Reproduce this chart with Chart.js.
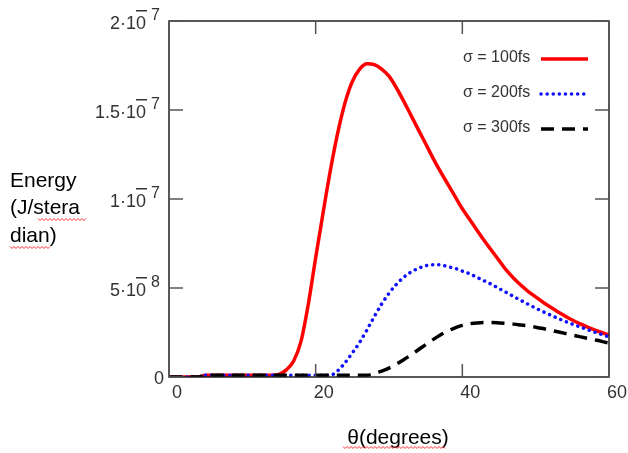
<!DOCTYPE html>
<html>
<head>
<meta charset="utf-8">
<script src="https://cdn.jsdelivr.net/npm/chart.js@4"></script>
<style>
  body { margin: 0; background: #fff; }
  canvas { display: block; }
</style>
</head>
<body>
<canvas id="energia" width="628" height="453"></canvas>
<script>
// theta in degrees, energy in units of 1e-8 J/steradian
var theta = [0,1,2,3,4,5,6,7,8,9,10,11,12,13,14,15,16,17,18,19,20,21,22,23,24,25,26,27,28,29,30,
  31,32,33,34,35,36,37,38,39,40,41,42,43,44,45,46,47,48,49,50,51,52,53,54,55,56,57,58,59,60];
var sigma100 = [0,0,0,0,0,0.1,0.1,0.1,0.1,0.1,0.1,0.1,0.1,0.1,0.1,0.15,0.4,0.9,2.0,4.1,6.7,
  9.2,11.6,13.7,15.4,16.6,17.3,17.6,17.55,17.3,16.9,16.25,15.5,14.7,13.9,13.1,12.3,11.55,10.85,10.15,9.45,
  8.85,8.25,7.65,7.1,6.55,6.0,5.55,5.15,4.8,4.5,4.2,3.93,3.67,3.43,3.2,3.0,2.82,2.65,2.5,2.37];
var sigma200 = [0,0,0,0,0,0.1,0.1,0.1,0.1,0.1,0.1,0.1,0.1,0.1,0.1,0.1,0.1,0.1,0.1,0.1,0.1,
  0.1,0.1,0.35,0.8,1.35,1.95,2.65,3.4,4.1,4.7,5.2,5.6,5.9,6.1,6.25,6.3,6.3,6.2,6.1,5.95,
  5.8,5.6,5.4,5.2,4.97,4.75,4.52,4.3,4.08,3.87,3.67,3.48,3.3,3.13,2.97,2.82,2.67,2.53,2.39,2.25];
var sigma300 = [0,0,0,0,0,0.1,0.1,0.1,0.1,0.1,0.1,0.1,0.1,0.1,0.1,0.1,0.1,0.1,0.1,0.1,0.1,
  0.1,0.1,0.1,0.1,0.1,0.1,0.1,0.2,0.33,0.5,0.72,0.97,1.24,1.53,1.82,2.1,2.36,2.58,2.76,2.9,
  2.99,3.04,3.06,3.06,3.04,3.01,2.97,2.92,2.87,2.8,2.72,2.63,2.54,2.45,2.36,2.27,2.18,2.09,2.0,1.9];
var seriesNames = ['σ = 100fs', 'σ = 200fs', 'σ = 300fs'];

var xTicks = [0, 20, 40, 60];
var yTicks = [0, 5, 10, 15, 20];
var yTickMant = ['0', '5·10', '1·10', '1.5·10', '2·10'];
var yTickExp = ['', '8', '7', '7', '7'];

function pts(vals) {
  return theta.map(function (t, i) { return { x: t, y: vals[i] }; });
}

var FONT = "'Liberation Sans', Arial, sans-serif";

function squiggle(ctx, x0, x1, y) {
  ctx.save();
  ctx.strokeStyle = '#ff3030';
  ctx.lineWidth = 1;
  ctx.beginPath();
  for (var x = x0, k = 0; x <= x1; x += 2, k++) {
    var yy = y + (k % 2 ? 1.5 : -0.5);
    if (k === 0) ctx.moveTo(x, yy); else ctx.lineTo(x, yy);
  }
  ctx.stroke();
  ctx.restore();
}

var decor = {
  id: 'decor',
  afterDraw: function (chart) {
    var ctx = chart.ctx, ca = chart.chartArea;
    var xs = chart.scales.x, ys = chart.scales.y;
    ctx.save();

    // frame
    ctx.strokeStyle = '#222';
    ctx.lineWidth = 1.5;
    ctx.strokeRect(ca.left, ca.top, ca.right - ca.left, ca.bottom - ca.top);

    // inner ticks
    ctx.strokeStyle = '#555';
    ctx.beginPath();
    yTicks.forEach(function (v) {
      var py = ys.getPixelForValue(v);
      ctx.moveTo(ca.left, py); ctx.lineTo(ca.left + 14, py);
      ctx.moveTo(ca.right, py); ctx.lineTo(ca.right - 14, py);
    });
    xTicks.forEach(function (v) {
      var px = xs.getPixelForValue(v);
      ctx.moveTo(px, ca.bottom); ctx.lineTo(px, ca.bottom - 13);
      ctx.moveTo(px, ca.top); ctx.lineTo(px, ca.top + 13);
    });
    ctx.stroke();

    // y tick labels
    ctx.fillStyle = '#333';
    yTicks.forEach(function (v, i) {
      var py = ys.getPixelForValue(v);
      ctx.font = '18px ' + FONT;
      ctx.textAlign = 'right';
      ctx.textBaseline = 'alphabetic';
      if (!yTickExp[i]) {
        ctx.fillText(yTickMant[i], ca.left - 5, py + 7);
        return;
      }
      ctx.fillText(yTickMant[i], ca.left - 23, py + 8);
      ctx.fillRect(ca.left - 33, py - 11, 11, 1.5);
      ctx.font = '16px ' + FONT;
      ctx.textAlign = 'left';
      ctx.fillText(yTickExp[i], ca.left - 18, py - 1);
    });

    // x tick labels
    ctx.font = '18px ' + FONT;
    ctx.textAlign = 'center';
    xTicks.forEach(function (v) {
      ctx.fillText(String(v), xs.getPixelForValue(v) + 8, ca.bottom + 21);
    });

    // axis titles
    ctx.fillStyle = '#000';
    ctx.font = '21px ' + FONT;
    ctx.textAlign = 'left';
    ctx.fillText('Energy', 10, 187);
    ctx.fillText('(J/stera', 10, 214);
    ctx.fillText('dian)', 10, 242);
    ctx.textAlign = 'center';
    ctx.fillText('θ(degrees)', 398, 444);
    squiggle(ctx, 38, 87, 219);
    squiggle(ctx, 10, 50, 247);
    squiggle(ctx, 343, 445, 447);

    // legend
    var ds = chart.data.datasets;
    ctx.font = '16px ' + FONT;
    ctx.textAlign = 'left';
    ctx.textBaseline = 'middle';
    ds.forEach(function (d, i) {
      var ly = 58 + i * 35;
      ctx.fillStyle = '#333';
      ctx.fillText(d.label, 463, ly);
      ctx.save();
      ctx.strokeStyle = d.borderColor;
      ctx.lineWidth = d.borderWidth;
      ctx.lineCap = d.borderCapStyle || 'butt';
      ctx.setLineDash(d.borderDash || []);
      ctx.beginPath();
      ctx.moveTo(541, ly + 1); ctx.lineTo(588, ly + 1);
      ctx.stroke();
      ctx.restore();
    });
    ctx.restore();
  }
};

new Chart(document.getElementById('energia'), {
  type: 'scatter',
  data: {
    datasets: [
      { label: seriesNames[0], data: pts(sigma100), showLine: true, borderColor: '#ff0000',
        borderWidth: 3.5, pointRadius: 0, cubicInterpolationMode: 'monotone', order: 2 },
      { label: seriesNames[1], data: pts(sigma200), showLine: true, borderColor: '#1010ff',
        borderWidth: 3.5, borderDash: [0.1, 6], borderCapStyle: 'round', pointRadius: 0,
        cubicInterpolationMode: 'monotone', order: 1 },
      { label: seriesNames[2], data: pts(sigma300), showLine: true, borderColor: '#000000',
        borderWidth: 3.5, borderDash: [13, 8], pointRadius: 0,
        cubicInterpolationMode: 'monotone', order: 0 }
    ]
  },
  options: {
    responsive: false,
    animation: false,
    layout: { padding: { left: 169, right: 19, top: 21, bottom: 76 } },
    plugins: { legend: { display: false }, tooltip: { enabled: false } },
    scales: {
      x: { type: 'linear', min: 0, max: 60, display: false },
      y: { type: 'linear', min: 0, max: 20, display: false }
    }
  },
  plugins: [decor]
});
</script>
</body>
</html>
